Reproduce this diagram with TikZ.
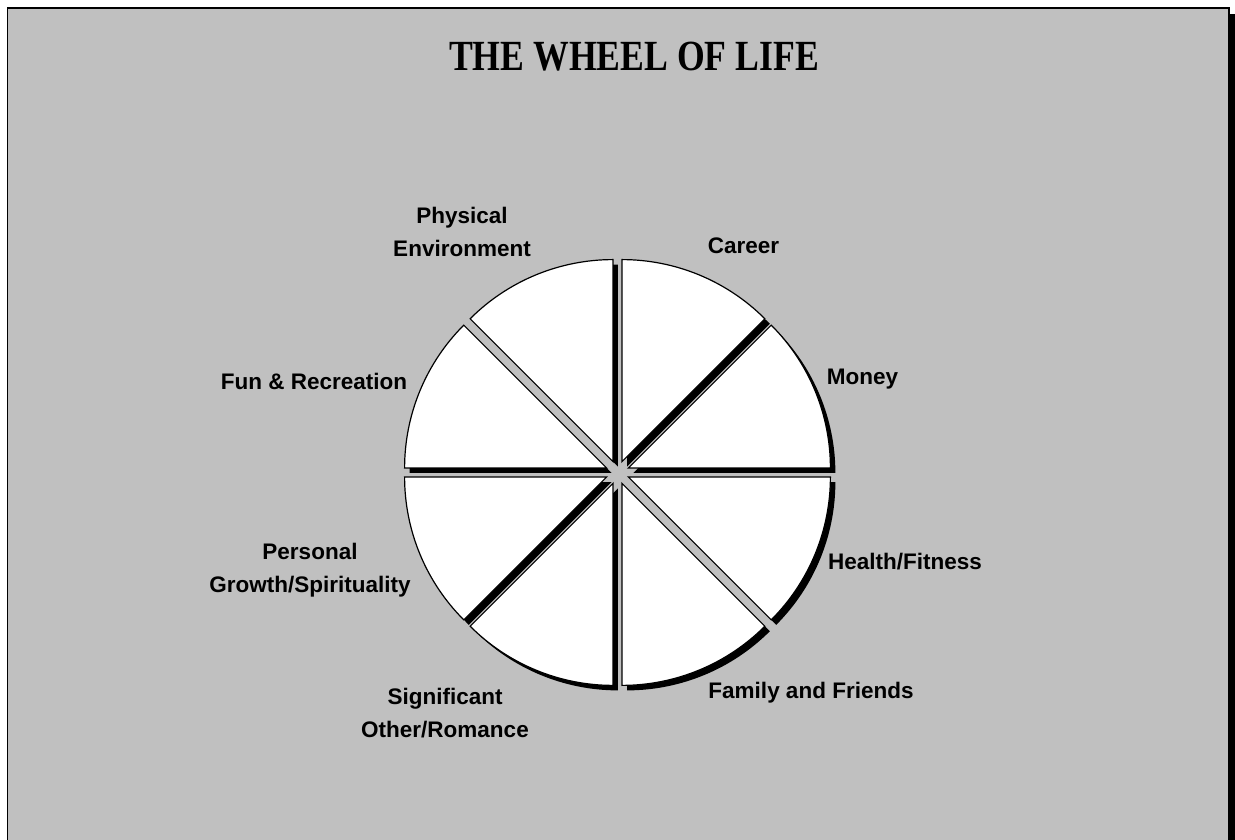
\documentclass[tikz,border=0pt]{standalone}
\usepackage{fontspec}
\setmainfont{Liberation Sans}
\newfontfamily\titlefont[FakeStretch=0.83]{Liberation Serif}
\usepackage{xcolor}
\usepackage{tikz}
\usetikzlibrary{shadows}
\definecolor{panel}{HTML}{C0C0C0}

\begin{document}
\begin{tikzpicture}[x=1pt, y=1pt,
  slice/.style={fill=white, draw=black, line width=1.2pt, line join=miter,
                drop shadow={shadow xshift=5pt, shadow yshift=-5pt, fill=black, opacity=1}},
  area/.style={font=\fontsize{22.5}{33}\selectfont\bfseries, align=center},
  heading/.style={font=\titlefont\fontsize{43}{43}\selectfont\bfseries}
]
  \useasboundingbox (0,0) rectangle (1235,840);
  % slide frame
  \fill[black] (13,-20) rectangle (1235,826);
  \filldraw[fill=panel, draw=black, line width=1.5pt] (7.5,-20) rectangle (1229,832);

  \node[heading] (title) at (634,783) {THE WHEEL OF LIFE};

  % the wheel
  \coordinate (hub) at (617.5,367.5);
  \path[slice] ([shift={(67.5:11.8)}]hub) -- ++(90:202) arc[start angle=90, end angle=45, radius=202] -- cycle;
  \path[slice] ([shift={(22.5:11.8)}]hub) -- ++(45:202) arc[start angle=45, end angle=0, radius=202] -- cycle;
  \path[slice] ([shift={(-22.5:11.8)}]hub) -- ++(0:202) arc[start angle=0, end angle=-45, radius=202] -- cycle;
  \path[slice] ([shift={(-67.5:11.8)}]hub) -- ++(-45:202) arc[start angle=-45, end angle=-90, radius=202] -- cycle;
  \path[slice] ([shift={(-112.5:11.8)}]hub) -- ++(-90:202) arc[start angle=-90, end angle=-135, radius=202] -- cycle;
  \path[slice] ([shift={(-157.5:11.8)}]hub) -- ++(-135:202) arc[start angle=-135, end angle=-180, radius=202] -- cycle;
  \path[slice] ([shift={(157.5:11.8)}]hub) -- ++(180:202) arc[start angle=180, end angle=135, radius=202] -- cycle;
  \path[slice] ([shift={(112.5:11.8)}]hub) -- ++(135:202) arc[start angle=135, end angle=90, radius=202] -- cycle;

  % labels
  \node[area] (career) at (743.5,594) {Career};
  \node[area] (money) at (862.5,461) {Money};
  \node[area] (health) at (905,278) {Health/Fitness};
  \node[area] (family) at (811,147) {Family and Friends};
  \node[area] (partner) at (445,126.5) {Significant\\Other/Romance};
  \node[area] (growth) at (310,269.5) {Personal\\Growth/Spirituality};
  \node[area] (fun) at (314,459) {Fun \& Recreation};
  \node[area] (physical) at (462,608.5) {Physical\\Environment};
\end{tikzpicture}
\end{document}
